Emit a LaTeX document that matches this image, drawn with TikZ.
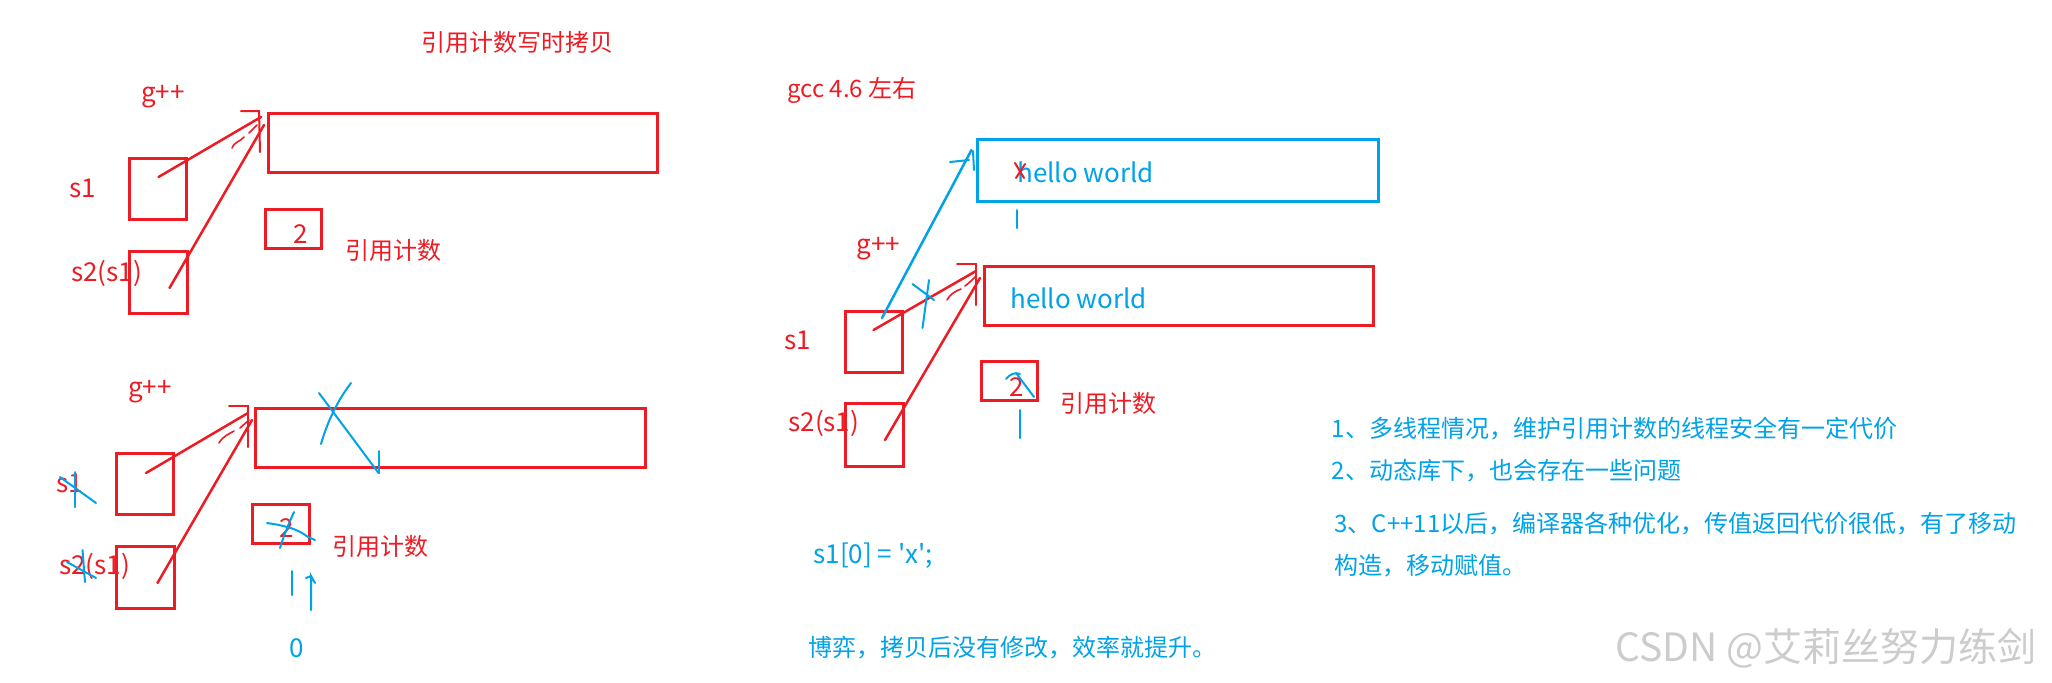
\documentclass[tikz,border=0pt]{standalone}
\usepackage{fontspec}
\setmainfont{Noto Sans CJK SC}
\newfontfamily\codefont{Noto Sans CJK SC}[Ligatures=TeXOff]
\usepackage{xcolor}
\usepackage{tikz}
\usetikzlibrary{arrows.meta}
\definecolor{inkred}{RGB}{237,28,36}
\definecolor{inkblue}{RGB}{0,162,232}

\begin{document}
\begin{tikzpicture}[x=0.5pt,y=-0.5pt,
  redbox/.style={draw=inkred,line width=1.5pt,inner sep=0pt,outer sep=0pt},
  bluebox/.style={draw=inkblue,line width=1.5pt,inner sep=0pt,outer sep=0pt},
  redtxt/.style={text=inkred,inner sep=0pt,font=\fontsize{12}{14}\selectfont},
  bluetxt/.style={text=inkblue,inner sep=0pt,font=\fontsize{12}{14}\selectfont},
  latin/.style={font=\fontsize{13}{15}\selectfont},
  pen/.style={inkred,line width=1.25pt,line cap=round},
  bluepen/.style={inkblue,line width=1pt,line cap=round}]
  \fill[white] (0,0) rectangle (2052,682);
  \useasboundingbox (0,0) rectangle (2052,682);

  \node[redtxt] (title) at (517,42) {引用计数写时拷贝};
  \node[redtxt,latin] (gA) at (163,97) {g++};
  \node[redbox,minimum width=194.5pt,minimum height=29.5pt] (bufA) at (462.5,142.5) {};
  \node[redbox,minimum width=28.5pt,minimum height=30.5pt] (s1A) at (157.5,188.5) {};
  \node[redbox,minimum width=29pt,minimum height=31pt] (s2A) at (158,282) {};
  \node[redbox,minimum width=28pt,minimum height=19.5pt] (cntA) at (293,228.5) {};
  \node[redtxt,latin] (s1Alab) at (83,188) {s1};
  \node[redtxt,latin,anchor=west] (s2Alab) at (71,273) {s2(s1)};
  \node[redtxt,latin] (twoA) at (301,234) {2};
  \node[redtxt] (refA) at (393,250) {引用计数};
  \coordinate (pA1) at (158.5,177);
  \coordinate (pA2) at (169.5,288);
  \draw[pen] (pA1) -- ([xshift=-3.5pt,yshift=-2pt]bufA.north west);
  \draw[pen] (pA2) -- ([xshift=-2pt,yshift=-6pt]bufA.north west);
  \draw[pen,line width=1pt] (241,111) -- (259,111) -- (260,152);
  \draw[pen,line width=0.8pt] (232,148) .. controls (235,141) and (240,142) .. (244,137);
  \draw[pen,line width=0.8pt] (249,133) .. controls (252,130) and (254,128) .. (257,125);

  \node[redtxt,latin] (gB) at (150,392) {g++};
  \node[redbox,minimum width=195pt,minimum height=29.5pt] (bufB) at (450,437.5) {};
  \node[redbox,minimum width=28.5pt,minimum height=30.5pt] (s1B) at (145,483.5) {};
  \node[redbox,minimum width=29pt,minimum height=31pt] (s2B) at (145.5,577) {};
  \node[redbox,minimum width=28.5pt,minimum height=19.5pt] (cntB) at (280.5,523.5) {};
  \node[redtxt,latin] (s1Blab) at (70,483) {s1};
  \node[redtxt,latin,anchor=west] (s2Blab) at (59,566) {s2(s1)};
  \node[redtxt,latin] (twoB) at (287,528) {2};
  \node[redtxt] (refB) at (380,546) {引用计数};
  \node[bluetxt,latin] (zeroB) at (297,648) {0};
  \coordinate (pB1) at (146,473);
  \coordinate (pB2) at (157.5,583);
  \draw[pen] (pB1) -- ([xshift=-3.5pt,yshift=-2.5pt]bufB.north west);
  \draw[pen] (pB2) -- ([xshift=-1.5pt,yshift=-6pt]bufB.north west);
  \draw[pen,line width=1pt] (229,406) -- (248,406) -- (248,447);
  \draw[pen,line width=0.8pt] (219,443) .. controls (223,436) and (229,434) .. (234,431);
  \draw[pen,line width=0.8pt] (240,428) .. controls (243,425) and (246,423) .. (249,420);
  \draw[bluepen] (351,383) .. controls (338,400) and (328,420) .. (321,444);
  \draw[bluepen] (319,393) -- (378.5,473);
  \draw[bluepen] (378.5,451) -- (378.5,473);
  \draw[bluepen] (75,472) -- (75,507);
  \draw[bluepen] (60,477) -- (96,503);
  \draw[bluepen] (82.5,550) -- (85,582);
  \draw[bluepen] (67,562) -- (96,578);
  \draw[bluepen] (294,512) .. controls (288,525) and (283,538) .. (280,548);
  \draw[bluepen] (267,523) .. controls (281,525) and (297,528) .. (308,537) -- (315,540);
  \draw[bluepen] (292,571) -- (292,595);
  \draw[bluepen] (311,610) -- (311,576) -- (315,583);
  \draw[bluepen] (306,578) -- (311,576);

  \node[redtxt,anchor=west] (gcc) at (787,90) {gcc 4.6 左右};
  \node[bluebox,minimum width=200.5pt,minimum height=31pt] (bufC1) at (1178,170) {};
  \node[redbox,minimum width=194.5pt,minimum height=29.5pt] (bufC2) at (1178.5,295.5) {};
  \node[redbox,minimum width=28.5pt,minimum height=30.5pt] (s1C) at (873.5,341.5) {};
  \node[redbox,minimum width=29pt,minimum height=31.5pt] (s2C) at (874,434.5) {};
  \node[redbox,minimum width=28pt,minimum height=19.5pt] (cntC) at (1009,380.5) {};
  \node[bluetxt,latin,anchor=west] (hello1) at (1017,172) {hello world};
  \node[bluetxt,latin,anchor=west] (hello2) at (1010,298) {hello world};
  \node[redtxt,latin] (gC) at (878.5,249) {g++};
  \node[redtxt,latin] (s1Clab) at (798,340) {s1};
  \node[redtxt,latin,anchor=west] (s2Clab) at (788,423) {s2(s1)};
  \node[redtxt,latin] (twoC) at (1017,387) {2};
  \node[redtxt] (refC) at (1108,403) {引用计数};
  \node[bluetxt,latin,anchor=west,font=\codefont\fontsize{13}{15}\selectfont] (code) at (813,556) {s1[0] = 'x';};
  \node[bluetxt,anchor=west] (game) at (808.5,648) {博弈，拷贝后没有修改，效率就提升。};
  \coordinate (pC1) at (873.5,330);
  \coordinate (pC2) at (885,440);
  \coordinate (pC0) at (882,318);
  \draw[inkblue,line width=1.25pt,line cap=round] (pC0) -- ([xshift=-3pt,yshift=-5.5pt]bufC1.north west);
  \draw[pen] (pC1) -- ([xshift=-4pt,yshift=-2.5pt]bufC2.north west);
  \draw[pen] (pC2) -- ([xshift=-2pt,yshift=-6pt]bufC2.north west);
  \draw[pen,line width=1pt] (957,264) -- (975.5,264) -- (975.5,305);
  \draw[pen,line width=0.8pt] (947,300) .. controls (951,293) and (956,291) .. (961,289);
  \draw[pen,line width=0.8pt] (965,286) .. controls (969,283) and (972,280) .. (975,277);
  \draw[bluepen] (950,162) -- (969,160);
  \draw[bluepen] (973,151) -- (974,170);
  \draw[pen,line width=1pt] (1015,163) -- (1024,178);
  \draw[pen,line width=1pt] (1025,164) -- (1016,178);
  \draw[bluepen] (1016.5,210) -- (1016.5,228);
  \draw[bluepen] (1019.5,410) -- (1019.5,438);
  \draw[bluepen] (912.5,284) -- (934,300);
  \draw[bluepen] (929,280) -- (922.5,328);
  \draw[bluepen] (1006,379) .. controls (1010,374) and (1015,372) .. (1020,374);
  \draw[bluepen] (1016,373) -- (1034,397);

  \node[bluetxt,anchor=west] (note1) at (1331.5,429) {1、多线程情况，维护引用计数的线程安全有一定代价};
  \node[bluetxt,anchor=west] (note2) at (1331.5,471) {2、动态库下，也会存在一些问题};
  \node[bluetxt,anchor=west] (note3) at (1334,524) {3、C++11以后，编译器各种优化，传值返回代价很低，有了移动};
  \node[bluetxt,anchor=west] (note4) at (1334,566) {构造，移动赋值。};
  \node[text=black!20,inner sep=0pt,anchor=west,font=\fontsize{19.5}{23}\selectfont] (wm) at (1615,648) {CSDN @艾莉丝努力练剑};
\end{tikzpicture}
\end{document}
